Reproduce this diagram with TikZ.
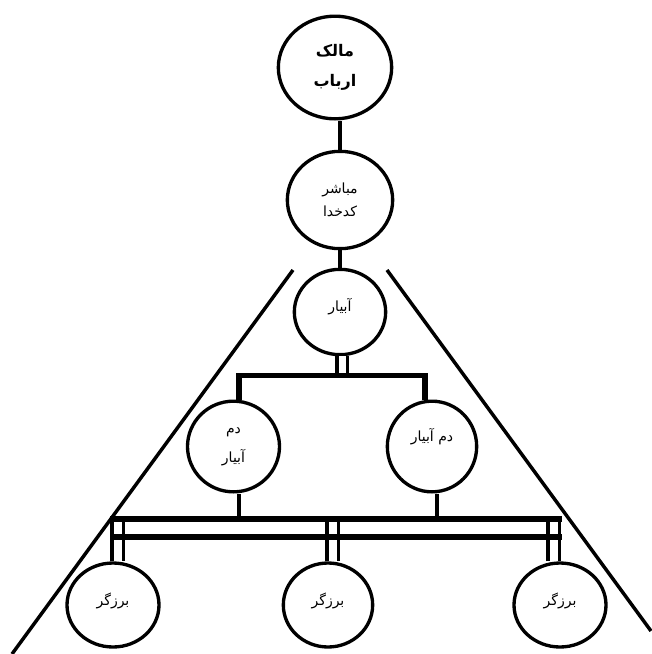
\documentclass[tikz,border=0pt]{standalone}
\usepackage{fontspec}
\usetikzlibrary{shapes.geometric}
\newfontfamily\arabicfont[Script=Arabic]{DejaVu Sans}
\TeXXeTstate=1
\def\fa#1{\beginR #1\endR}
\tikzset{
  bubble/.style={draw, shape=ellipse, inner sep=0pt, line width=2.5pt, align=center},
  plain/.style={font=\arabicfont\fontsize{10.5}{22}\selectfont},
  tight/.style={font=\arabicfont\fontsize{10.5}{17}\selectfont},
  lord/.style={font=\arabicfont\bfseries\fontsize{12}{22}\selectfont},
  heavy/.style={line width=4pt},
  link/.style={line width=2.5pt},
  twin/.style={double=white, line width=2.3pt, double distance=#1},
  side/.style={line width=2.6pt}
}
\def\bubble(#1,#2,#3,#4,#5,#6,#7){
  \node[bubble, #6, minimum width=#4, minimum height=#5] (#1) at (#2,#3) {#7};
}

\begin{document}
\begin{tikzpicture}[x=0.75pt, y=-0.75pt]
\useasboundingbox (0,0) rectangle (651,654);
\bubble(owner,335,67.5,85pt,77pt,lord,\fa{مالک}\\\fa{ارباب})
\bubble(steward,340,200,79pt,73pt,tight,\fa{مباشر}\\\fa{کدخدا})
\bubble(irrig,340,312,68.5pt,64pt,{plain, text depth=10pt},\fa{آبیار})
\bubble(aideL,233.5,446.5,69pt,68pt,plain,\fa{دم}\\\fa{آبیار})
\bubble(aideR,432,446.5,67pt,68pt,{plain, text depth=17pt},\fa{دم آبیار})
\bubble(farmL,113,605,69pt,63pt,{plain, text depth=8pt},\fa{برزگر})
\bubble(farmM,328,605,67pt,63pt,{plain, text depth=8pt},\fa{برزگر})
\bubble(farmR,560,605,69pt,63pt,{plain, text depth=8pt},\fa{برزگر})
\coordinate (stem) at (342,375.5);
\coordinate (forkL) at (239,375.5);
\coordinate (forkR) at (425,375.5);
\coordinate (dropL) at (239,519);
\coordinate (dropR) at (437,519);
\coordinate (hangL) at (117.5,519);
\coordinate (hangM) at (332.5,519);
\coordinate (hangR) at (553.5,519);
\coordinate (railA) at (110,519);
\coordinate (railB) at (562,519);
\coordinate (railC) at (110,537);
\coordinate (railD) at (562,537);
\coordinate (apexL) at (293,270);
\coordinate (footL) at (12,654);
\coordinate (apexR) at (387,270);
\coordinate (footR) at (651,631);
\draw[link] (owner.south -| steward) -- (steward.north);
\draw[link] (steward) -- (irrig);
\draw[twin=5.25pt] (irrig.south -| stem) -- (stem);
\draw[heavy] (aideL.north -| forkL) -- (forkL) -- (forkR) -- (aideR.north -| forkR);
\draw[link] (aideL.south -| dropL) -- (dropL);
\draw[link] (aideR.south -| dropR) -- (dropR);
\draw[twin=6pt] (farmL.north -| hangL) -- (hangL);
\draw[twin=6pt] (farmM.north -| hangM) -- (hangM);
\draw[twin=6pt] (farmR.north -| hangR) -- (hangR);
\draw[heavy] (railA) -- (railB);
\draw[heavy] (railC) -- (railD);
\draw[side] (apexL) -- (footL);
\draw[side] (apexR) -- (footR);
\end{tikzpicture}
\end{document}
